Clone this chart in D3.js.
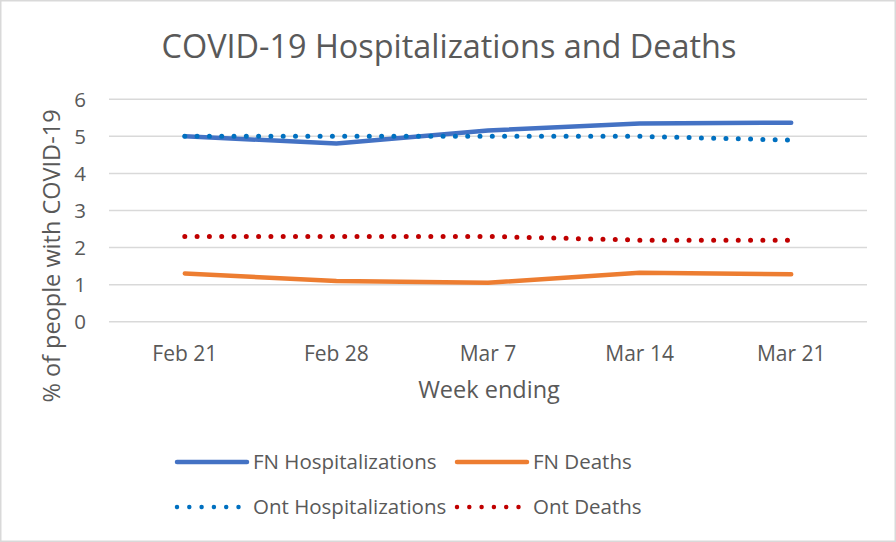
<!DOCTYPE html>
<html>
<head>
<meta charset="UTF-8">
<title>COVID-19 Hospitalizations and Deaths</title>
<script src="https://d3js.org/d3.v7.min.js"></script>
<style>
  body { margin: 0; background: #fff; }
  text { font-family: "Open Sans", sans-serif; fill: #595959; }
</style>
</head>
<body>
<script>
  // week ending labels
  var weeks = ["Feb 21", "Feb 28", "Mar 7", "Mar 14", "Mar 21"];
  var yTicks = [0, 1, 2, 3, 4, 5, 6];

  // % of people with COVID-19
  var fnHosp = [5.0, 4.81, 5.16, 5.35, 5.37];
  var fnDeaths = [1.3, 1.1, 1.05, 1.32, 1.28];
  var ontHosp = [5.0, 5.0, 5.0, 5.0, 4.9];
  var ontDeaths = [2.3, 2.3, 2.3, 2.2, 2.2];

  var seriesNames = ["FN Hospitalizations", "FN Deaths", "Ont Hospitalizations", "Ont Deaths"];

  var width = 896, height = 542;
  var plotLeft = 109, plotRight = 867, plotTop = 99.3, plotBottom = 321.7;

  var series = [
    { name: seriesNames[0], values: fnHosp, color: "#4472C4", dotted: false },
    { name: seriesNames[1], values: fnDeaths, color: "#ED7D31", dotted: false },
    { name: seriesNames[2], values: ontHosp, color: "#0070C0", dotted: true },
    { name: seriesNames[3], values: ontDeaths, color: "#C00000", dotted: true }
  ];

  var svg = d3.select("body").append("svg")
    .attr("width", width)
    .attr("height", height);

  // chart border
  svg.append("rect")
    .attr("x", 0.75).attr("y", 0.75)
    .attr("width", width - 1.5).attr("height", height - 1.5)
    .attr("fill", "#fff")
    .attr("stroke", "#d9d9d9")
    .attr("stroke-width", 1.5);

  var x = d3.scaleBand().domain(weeks).range([plotLeft, plotRight]);
  var y = d3.scaleLinear().domain([0, 6]).range([plotBottom, plotTop]);

  // gridlines
  svg.append("g").selectAll("line")
    .data(yTicks)
    .enter().append("line")
    .attr("x1", plotLeft).attr("x2", plotRight)
    .attr("y1", function(d) { return y(d); })
    .attr("y2", function(d) { return y(d); })
    .attr("stroke", "#d9d9d9")
    .attr("stroke-width", 1.5);

  // y tick labels
  svg.append("g").selectAll("text")
    .data(yTicks)
    .enter().append("text")
    .attr("x", 86)
    .attr("y", function(d) { return y(d); })
    .attr("dy", "0.36em")
    .attr("text-anchor", "end")
    .style("font-size", "20.5px")
    .text(function(d) { return d; });

  // x tick labels
  svg.append("g").selectAll("text")
    .data(weeks)
    .enter().append("text")
    .attr("x", function(d) { return x(d) + x.bandwidth() / 2; })
    .attr("y", 361)
    .attr("text-anchor", "middle")
    .style("font-size", "21px")
    .text(function(d) { return d; });

  // titles
  svg.append("text")
    .attr("x", 449).attr("y", 58)
    .attr("text-anchor", "middle")
    .style("font-size", "32.4px")
    .text("COVID-19 Hospitalizations and Deaths");

  svg.append("text")
    .attr("x", 489).attr("y", 398)
    .attr("text-anchor", "middle")
    .style("font-size", "23.5px")
    .text("Week ending");

  svg.append("text")
    .attr("transform", "translate(60,256) rotate(-90)")
    .attr("text-anchor", "middle")
    .style("font-size", "23.5px")
    .text("% of people with COVID-19");

  // lines
  var line = d3.line()
    .x(function(d, i) { return x(weeks[i]) + x.bandwidth() / 2; })
    .y(function(d) { return y(d); });

  svg.append("g").selectAll("path")
    .data(series)
    .enter().append("path")
    .attr("d", function(d) { return line(d.values); })
    .attr("fill", "none")
    .attr("stroke", function(d) { return d.color; })
    .attr("stroke-width", function(d) { return d.dotted ? 5 : 4.5; })
    .attr("stroke-linecap", "round")
    .attr("stroke-linejoin", "round")
    .attr("stroke-dasharray", function(d) { return d.dotted ? "0 12.3" : null; });

  // legend
  var legendPos = [[177, 462], [457, 462], [177, 507], [457, 507]];
  var legend = svg.append("g").selectAll("g")
    .data(series)
    .enter().append("g")
    .attr("transform", function(d, i) { return "translate(" + legendPos[i] + ")"; });

  legend.append("line")
    .attr("x1", 0).attr("x2", function(d) { return d.dotted ? 66 : 70; })
    .attr("y1", 0).attr("y2", 0)
    .attr("stroke", function(d) { return d.color; })
    .attr("stroke-width", function(d) { return d.dotted ? 4.5 : 4.5; })
    .attr("stroke-linecap", "round")
    .attr("stroke-dasharray", function(d) { return d.dotted ? "0 12.3" : null; });

  legend.append("text")
    .attr("x", 76)
    .attr("y", 0)
    .attr("dy", "0.36em")
    .style("font-size", "20.5px")
    .text(function(d) { return d.name; });
</script>
</body>
</html>
